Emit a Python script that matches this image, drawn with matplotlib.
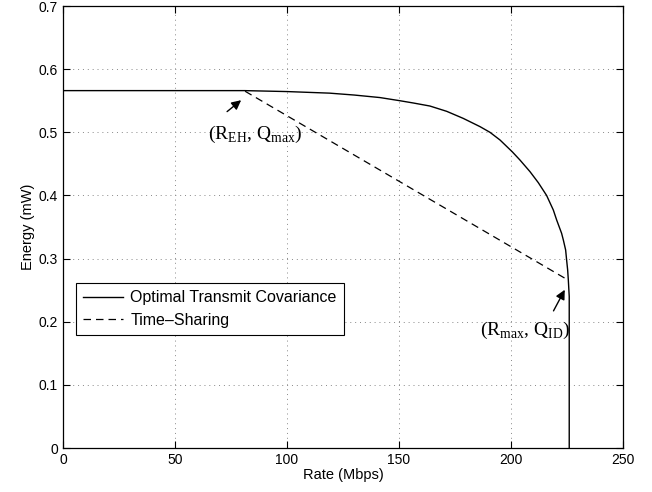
import numpy as np
import matplotlib
matplotlib.use('Agg')
import matplotlib.pyplot as plt

# optimal transmit covariance boundary
rate_opt = [0, 81, 100, 119, 130, 141.5, 150.4, 156.4, 163.8, 171.3, 178.7,
            186.2, 190.6, 195.1, 200.6, 204.0, 208.5, 212.2, 215.9, 218.9,
            220.4, 222.6, 223.4, 224.4, 224.8, 225.3, 225.6, 226.0, 226.0]
energy_opt = [0.566, 0.566, 0.5645, 0.562, 0.559, 0.555, 0.550, 0.5464, 0.5416,
              0.5332, 0.522, 0.5089, 0.500, 0.4878, 0.469, 0.4561, 0.4376,
              0.4202, 0.400, 0.3769, 0.361, 0.340, 0.329, 0.3136, 0.299,
              0.2819, 0.266, 0.24, 0.0]

# time-sharing line between the two end points
rate_ts = [81.3, 224.5]
energy_ts = [0.565, 0.268]

plt.rcParams['font.family'] = ['Liberation Sans', 'DejaVu Sans']
plt.rcParams['mathtext.fontset'] = 'custom'
plt.rcParams['mathtext.rm'] = 'Liberation Serif'

fig = plt.figure(figsize=(6.52, 4.92), dpi=100)
ax = fig.add_axes([0.0966, 0.0894, 0.8589, 0.8984])

ax.plot(rate_opt, energy_opt, 'k-', lw=1.0, label='Optimal Transmit Covariance')
ax.plot(rate_ts, energy_ts, color='k', lw=0.9, linestyle=(0, (6, 4)), label='Time\u2013Sharing')

ax.set_xlim(0, 250)
ax.set_ylim(0, 0.7)
ax.set_xticks([0, 50, 100, 150, 200, 250])
ax.set_yticks([0, 0.1, 0.2, 0.3, 0.4, 0.5, 0.6, 0.7])
ax.set_yticklabels(['0', '0.1', '0.2', '0.3', '0.4', '0.5', '0.6', '0.7'])
ax.tick_params(direction='in', top=True, right=True, labelsize=10, length=5, width=0.8)
ax.grid(True, linestyle=(0, (1, 4)), color='#888888', lw=0.7)
for s in ax.spines.values():
    s.set_linewidth(0.9)

ax.set_xlabel('Rate (Mbps)', fontsize=10.5, labelpad=1)
ax.set_ylabel('Energy (mW)', fontsize=10.5, labelpad=3)

leg = ax.legend(loc='upper left', bbox_to_anchor=(0.0232, 0.373), borderaxespad=0,
                fontsize=11.5, handlelength=2.5, fancybox=False, framealpha=1,
                edgecolor='k', borderpad=0.45, labelspacing=0.45, handletextpad=0.45)
leg.get_frame().set_linewidth(0.8)

ax.text(64.7, 0.489, r'(R$_{\mathrm{EH}}$, Q$_{\mathrm{max}}$)', family='Liberation Serif', fontsize=14)
ax.text(226.5, 0.179, r'(R$_{\mathrm{max}}$, Q$_{\mathrm{ID}}$)', family='Liberation Serif', fontsize=14, ha='right')

ax.annotate('', xy=(80.5, 0.5536), xytext=(72.3, 0.530),
            arrowprops=dict(arrowstyle='-|>', color='k', lw=1.0, mutation_scale=14))
ax.annotate('', xy=(224.6, 0.2545), xytext=(218.4, 0.2133),
            arrowprops=dict(arrowstyle='-|>', color='k', lw=1.0, mutation_scale=14))

fig.savefig('out.png', dpi=100)
